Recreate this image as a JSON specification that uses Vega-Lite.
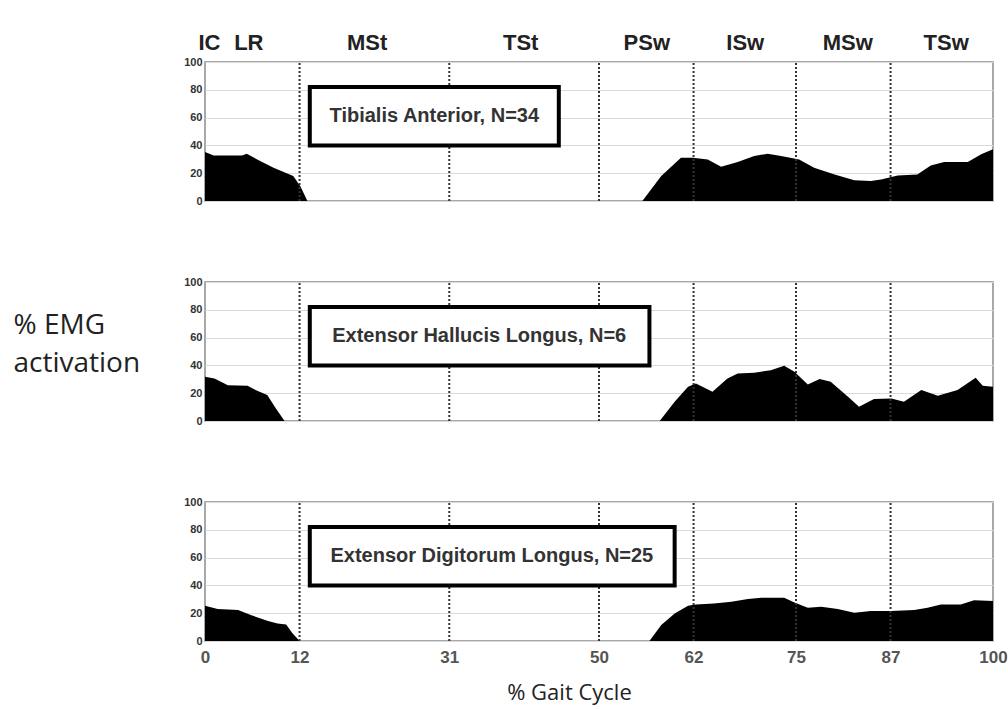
{
  "$schema": "https://vega.github.io/schema/vega-lite/v6.json",
  "padding": {"left": 12, "top": 30, "right": 10, "bottom": 5},
  "bounds": "flush",
  "spacing": 81,
  "background": "white",
  "config": {
    "view": {"stroke": "#8c8c8c", "strokeWidth": 1.5},
    "font": "Liberation Sans"
  },
  "datasets": {
    "emg": [
      {"m": "TA", "x": 0, "y": 35.3}, {"m": "TA", "x": 1.1, "y": 32.8}, {"m": "TA", "x": 4.7, "y": 32.8}, {"m": "TA", "x": 5.3, "y": 34},
      {"m": "TA", "x": 7, "y": 28.7}, {"m": "TA", "x": 8.7, "y": 23.9}, {"m": "TA", "x": 11.2, "y": 17.9}, {"m": "TA", "x": 12.1, "y": 10.6},
      {"m": "TA", "x": 13, "y": 0}, {"m": "TA", "x": 55.5, "y": 0}, {"m": "TA", "x": 57.9, "y": 17.9}, {"m": "TA", "x": 60.4, "y": 31.2},
      {"m": "TA", "x": 61.9, "y": 31.2}, {"m": "TA", "x": 63.8, "y": 29.9}, {"m": "TA", "x": 65.5, "y": 24.6}, {"m": "TA", "x": 67.6, "y": 28},
      {"m": "TA", "x": 69.7, "y": 32.4}, {"m": "TA", "x": 71.4, "y": 34}, {"m": "TA", "x": 73.1, "y": 32.4}, {"m": "TA", "x": 75.4, "y": 29.9},
      {"m": "TA", "x": 77.3, "y": 23.9}, {"m": "TA", "x": 79.9, "y": 19.1}, {"m": "TA", "x": 82.4, "y": 15}, {"m": "TA", "x": 84.5, "y": 14.3},
      {"m": "TA", "x": 85.8, "y": 15.5}, {"m": "TA", "x": 87.9, "y": 18.4}, {"m": "TA", "x": 90.4, "y": 19.1}, {"m": "TA", "x": 92.1, "y": 25.6},
      {"m": "TA", "x": 93.8, "y": 28}, {"m": "TA", "x": 96.8, "y": 28}, {"m": "TA", "x": 98.5, "y": 33.6}, {"m": "TA", "x": 100, "y": 37.2},
      {"m": "EHL", "x": 0, "y": 31.8}, {"m": "EHL", "x": 1.2, "y": 30.6}, {"m": "EHL", "x": 2.9, "y": 25.8}, {"m": "EHL", "x": 5.4, "y": 25.3},
      {"m": "EHL", "x": 6.7, "y": 21.5}, {"m": "EHL", "x": 7.9, "y": 18.7}, {"m": "EHL", "x": 9, "y": 9}, {"m": "EHL", "x": 10.1, "y": 0},
      {"m": "EHL", "x": 57.7, "y": 0}, {"m": "EHL", "x": 59.6, "y": 13.9}, {"m": "EHL", "x": 61.3, "y": 24.6}, {"m": "EHL", "x": 62.3, "y": 27},
      {"m": "EHL", "x": 64.4, "y": 21}, {"m": "EHL", "x": 66.3, "y": 30.6}, {"m": "EHL", "x": 67.6, "y": 34.2}, {"m": "EHL", "x": 69.7, "y": 34.7},
      {"m": "EHL", "x": 71.8, "y": 36.6}, {"m": "EHL", "x": 73.5, "y": 39.7}, {"m": "EHL", "x": 74.8, "y": 35.4}, {"m": "EHL", "x": 76.5, "y": 26.3},
      {"m": "EHL", "x": 78, "y": 30.2}, {"m": "EHL", "x": 79.4, "y": 28.2}, {"m": "EHL", "x": 81.6, "y": 17.4}, {"m": "EHL", "x": 83, "y": 10.3},
      {"m": "EHL", "x": 84.9, "y": 15.8}, {"m": "EHL", "x": 87.1, "y": 16.2}, {"m": "EHL", "x": 88.7, "y": 13.9}, {"m": "EHL", "x": 90.9, "y": 22.3},
      {"m": "EHL", "x": 93, "y": 18.2}, {"m": "EHL", "x": 95.5, "y": 22.3}, {"m": "EHL", "x": 97.8, "y": 31.1}, {"m": "EHL", "x": 98.7, "y": 25.3},
      {"m": "EHL", "x": 100, "y": 24.6},
      {"m": "EDL", "x": 0, "y": 25.3}, {"m": "EDL", "x": 1.6, "y": 23}, {"m": "EDL", "x": 4.2, "y": 22.3}, {"m": "EDL", "x": 5.8, "y": 18.7},
      {"m": "EDL", "x": 8, "y": 14.4}, {"m": "EDL", "x": 9.2, "y": 12.6}, {"m": "EDL", "x": 10.3, "y": 11.9}, {"m": "EDL", "x": 11.1, "y": 5.5},
      {"m": "EDL", "x": 12, "y": 0}, {"m": "EDL", "x": 56.4, "y": 0}, {"m": "EDL", "x": 57.9, "y": 11.5}, {"m": "EDL", "x": 59.6, "y": 19.8},
      {"m": "EDL", "x": 61.3, "y": 25.3}, {"m": "EDL", "x": 62.3, "y": 26.3}, {"m": "EDL", "x": 64.6, "y": 27}, {"m": "EDL", "x": 66.8, "y": 28.2},
      {"m": "EDL", "x": 68.9, "y": 30.2}, {"m": "EDL", "x": 70.6, "y": 31.1}, {"m": "EDL", "x": 73.5, "y": 31.1}, {"m": "EDL", "x": 74.8, "y": 27.7},
      {"m": "EDL", "x": 76.5, "y": 23.9}, {"m": "EDL", "x": 78.2, "y": 24.6}, {"m": "EDL", "x": 80.3, "y": 23}, {"m": "EDL", "x": 82.4, "y": 20.3},
      {"m": "EDL", "x": 84.5, "y": 21.5}, {"m": "EDL", "x": 87.1, "y": 21.5}, {"m": "EDL", "x": 90, "y": 22.3}, {"m": "EDL", "x": 91.7, "y": 23.9},
      {"m": "EDL", "x": 93.4, "y": 26.3}, {"m": "EDL", "x": 95.9, "y": 26.3}, {"m": "EDL", "x": 97.6, "y": 29.4}, {"m": "EDL", "x": 100, "y": 28.7}
    ],
    "lines": [
      {"x": 12, "y": 0, "y2": 100}, {"x": 31, "y": 0, "y2": 100}, {"x": 50, "y": 0, "y2": 100},
      {"x": 62, "y": 0, "y2": 100}, {"x": 75, "y": 0, "y2": 100}, {"x": 87, "y": 0, "y2": 100}
    ],
    "boxes": [
      {"m": "TA", "x": 13.3, "x2": 44.9, "y": 40, "y2": 82},
      {"m": "EHL", "x": 13.3, "x2": 56.4, "y": 40, "y2": 82},
      {"m": "EDL", "x": 13.3, "x2": 59.6, "y": 40, "y2": 82}
    ],
    "labels": [
      {"m": "TA", "x": 29.1, "y": 61, "label": "Tibialis Anterior, N=34"},
      {"m": "EHL", "x": 34.8, "y": 61, "label": "Extensor Hallucis Longus, N=6"},
      {"m": "EDL", "x": 36.4, "y": 61, "label": "Extensor Digitorum Longus, N=25"}
    ]
  },
  "vconcat": [
    {
      "width": 788, "height": 139,
      "encoding": {
        "x": {"field": "x", "type": "quantitative", "scale": {"domain": [0, 100], "nice": false, "zero": false},
          "axis": {"orient": "top", "values": [0.5, 5.5, 20.5, 40, 56, 68.5, 81.5, 94],
            "labelExpr": "datum.value < 2 ? 'IC' : datum.value < 10 ? 'LR' : datum.value < 30 ? 'MSt' : datum.value < 50 ? 'TSt' : datum.value < 60 ? 'PSw' : datum.value < 75 ? 'ISw' : datum.value < 90 ? 'MSw' : 'TSw'",
            "grid": false, "ticks": false, "domain": false, "labelFontSize": 22, "labelFontWeight": "bold",
            "labelColor": "#222", "labelPadding": 8, "labelFlush": false, "labelOverlap": false, "title": null}},
        "y": {"field": "y", "type": "quantitative", "scale": {"domain": [0, 100], "nice": false},
          "axis": {"values": [0, 20, 40, 60, 80, 100], "grid": true, "gridColor": "#dadada", "ticks": false, "domain": false,
            "labelFontSize": 11, "labelFontWeight": "bold", "labelColor": "#333", "labelPadding": 3, "labelOverlap": false, "title": null}}
      },
      "layer": [
        {"data": {"name": "emg"}, "transform": [{"filter": "datum.m === 'TA'"}],
          "mark": {"type": "area", "color": "black", "opacity": 1}},
        {"data": {"name": "lines"}, "mark": {"type": "rule", "color": "#333", "strokeDash": [2, 2], "strokeWidth": 2},
          "encoding": {"y2": {"field": "y2"}}},
        {"data": {"name": "boxes"}, "transform": [{"filter": "datum.m === 'TA'"}],
          "mark": {"type": "rect", "fill": "white", "stroke": "black", "strokeWidth": 4},
          "encoding": {"x2": {"field": "x2"}, "y2": {"field": "y2"}}},
        {"data": {"name": "labels"}, "transform": [{"filter": "datum.m === 'TA'"}],
          "mark": {"type": "text", "fontSize": 20, "fontWeight": "bold", "color": "#333", "align": "center", "baseline": "middle"},
          "encoding": {"text": {"field": "label"}}}
      ]
    },
    {
      "width": 788, "height": 139,
      "encoding": {
        "x": {"field": "x", "type": "quantitative", "scale": {"domain": [0, 100], "nice": false, "zero": false}, "axis": null},
        "y": {"field": "y", "type": "quantitative", "scale": {"domain": [0, 100], "nice": false},
          "axis": {"values": [0, 20, 40, 60, 80, 100], "grid": true, "gridColor": "#dadada", "ticks": false, "domain": false,
            "labelFontSize": 11, "labelFontWeight": "bold", "labelColor": "#333", "labelPadding": 3, "labelOverlap": false,
            "title": ["% EMG", "activation"], "titleAngle": 0, "titleAlign": "left", "titleBaseline": "middle",
            "titleX": -192, "titleY": 43, "titleFont": "Open Sans", "titleFontSize": 28, "titleFontWeight": "normal",
            "titleColor": "#222", "titleLineHeight": 38}}
      },
      "layer": [
        {"data": {"name": "emg"}, "transform": [{"filter": "datum.m === 'EHL'"}],
          "mark": {"type": "area", "color": "black", "opacity": 1}},
        {"data": {"name": "lines"}, "mark": {"type": "rule", "color": "#333", "strokeDash": [2, 2], "strokeWidth": 2},
          "encoding": {"y2": {"field": "y2"}}},
        {"data": {"name": "boxes"}, "transform": [{"filter": "datum.m === 'EHL'"}],
          "mark": {"type": "rect", "fill": "white", "stroke": "black", "strokeWidth": 4},
          "encoding": {"x2": {"field": "x2"}, "y2": {"field": "y2"}}},
        {"data": {"name": "labels"}, "transform": [{"filter": "datum.m === 'EHL'"}],
          "mark": {"type": "text", "fontSize": 20, "fontWeight": "bold", "color": "#333", "align": "center", "baseline": "middle"},
          "encoding": {"text": {"field": "label"}}}
      ]
    },
    {
      "width": 788, "height": 139,
      "encoding": {
        "x": {"field": "x", "type": "quantitative", "scale": {"domain": [0, 100], "nice": false, "zero": false},
          "axis": {"values": [0, 12, 31, 50, 62, 75, 87, 100], "grid": false, "ticks": false, "domain": false,
            "labelFontSize": 17, "labelFontWeight": "bold", "labelColor": "#555", "labelPadding": 8,
            "labelFlush": false, "labelOverlap": false,
            "title": "% Gait Cycle", "titleFont": "Open Sans", "titleFontSize": 22, "titleFontWeight": "normal",
            "titleColor": "#222", "titleX": 364, "titleY": 58, "titleBaseline": "alphabetic"}},
        "y": {"field": "y", "type": "quantitative", "scale": {"domain": [0, 100], "nice": false},
          "axis": {"values": [0, 20, 40, 60, 80, 100], "grid": true, "gridColor": "#dadada", "ticks": false, "domain": false,
            "labelFontSize": 11, "labelFontWeight": "bold", "labelColor": "#333", "labelPadding": 3, "labelOverlap": false, "title": null}}
      },
      "layer": [
        {"data": {"name": "emg"}, "transform": [{"filter": "datum.m === 'EDL'"}],
          "mark": {"type": "area", "color": "black", "opacity": 1}},
        {"data": {"name": "lines"}, "mark": {"type": "rule", "color": "#333", "strokeDash": [2, 2], "strokeWidth": 2},
          "encoding": {"y2": {"field": "y2"}}},
        {"data": {"name": "boxes"}, "transform": [{"filter": "datum.m === 'EDL'"}],
          "mark": {"type": "rect", "fill": "white", "stroke": "black", "strokeWidth": 4},
          "encoding": {"x2": {"field": "x2"}, "y2": {"field": "y2"}}},
        {"data": {"name": "labels"}, "transform": [{"filter": "datum.m === 'EDL'"}],
          "mark": {"type": "text", "fontSize": 20, "fontWeight": "bold", "color": "#333", "align": "center", "baseline": "middle"},
          "encoding": {"text": {"field": "label"}}}
      ]
    }
  ]
}
